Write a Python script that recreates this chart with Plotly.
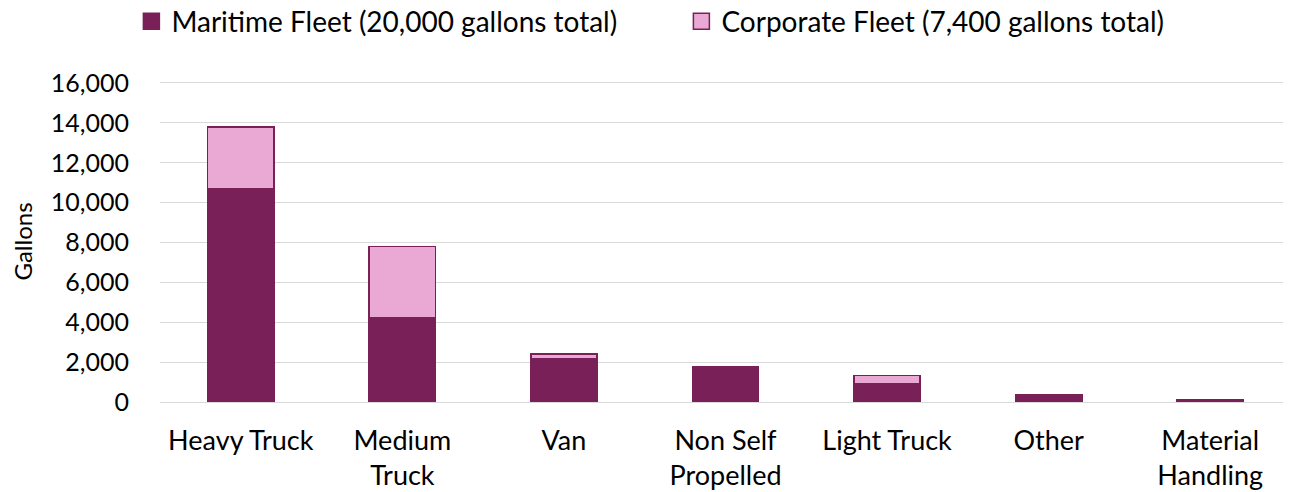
import plotly.graph_objects as go

categories = ["Heavy Truck", "Medium<br>Truck", "Van", "Non Self<br>Propelled", "Light Truck", "Other", "Material<br>Handling"]
maritime = [10700, 4250, 2170, 1750, 900, 370, 80]
corporate = [3100, 3550, 250, 0, 430, 0, 20]
tick_vals = [0, 2000, 4000, 6000, 8000, 10000, 12000, 14000, 16000]
series_names = ["Maritime Fleet (20,000 gallons total)", "Corporate Fleet (7,400 gallons total)"]

dark = "#7A2058"
pink = "#E9A9D4"
font_family = "Lato, 'Open Sans', sans-serif"

fig = go.Figure()
fig.add_trace(go.Bar(x=categories, y=maritime, name=series_names[0], showlegend=False,
                     marker=dict(color=dark, line=dict(color=dark, width=1.5))))
fig.add_trace(go.Bar(x=categories, y=corporate, name=series_names[1], showlegend=False,
                     marker=dict(color=pink, line=dict(color=dark, width=1.5))))
# legend entries with larger square swatches
for nm, col in zip(series_names, [dark, pink]):
    fig.add_trace(go.Scatter(x=[None], y=[None], mode="markers", name=nm,
                             marker=dict(symbol="square", size=17, color=col,
                                         line=dict(color=dark, width=1.5))))

# figure is offset by the page's 8px body margin, so size/margins compensate
fig.update_layout(
    barmode="stack",
    bargap=0.59,
    width=1283, height=484,
    margin=dict(l=152, r=0, t=73, b=90, autoexpand=False),
    paper_bgcolor="white", plot_bgcolor="white",
    font=dict(family=font_family, size=26, color="#000000"),
    legend=dict(orientation="h", x=-0.0253, xanchor="left", y=1.185, yanchor="middle",
                font=dict(size=28), traceorder="normal",
                itemwidth=30, entrywidth=505, itemsizing="trace"),
    showlegend=True,
)
fig.update_yaxes(range=[0, 16100], tickvals=tick_vals, tickformat=",d",
                 showgrid=True, gridcolor="#D9D9D9", gridwidth=1.3,
                 zeroline=True, zerolinecolor="#D9D9D9", zerolinewidth=1.3,
                 showline=False, ticks="", ticklabelstandoff=30,
                 title=dict(text="Gallons", font=dict(size=24), standoff=12),
                 tickfont=dict(size=25))
fig.update_xaxes(showgrid=False, showline=False, ticks="", tickfont=dict(size=27),
                 ticklabelstandoff=20)

fig.write_html("out.html")
